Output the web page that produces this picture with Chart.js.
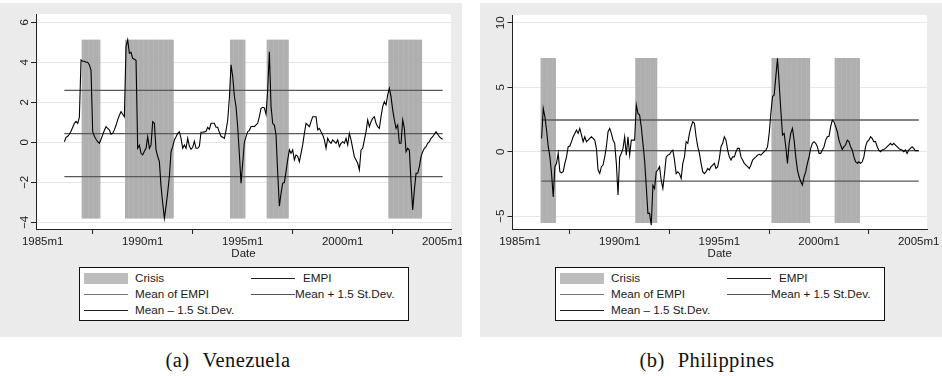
<!DOCTYPE html>
<html>
<head>
<meta charset="utf-8">
<title>EMPI and crisis periods</title>
<script src="https://cdn.jsdelivr.net/npm/chart.js@4.4.1/dist/chart.umd.min.js"></script>
<style>
  html, body { margin: 0; padding: 0; background: #fff; }
  body { position: relative; width: 942px; height: 376px; overflow: hidden;
         font-family: "Liberation Sans", Arial, sans-serif; color: #1a1a1a; }
  .panel { position: absolute; top: 3px; width: 462px; height: 334px; background: #ebebeb; }
  #panel-ven { left: 0; }
  #panel-phl { left: 480px; }
  .panel canvas { position: absolute; left: 0; top: 0; }
  .legend { position: absolute; top: 264px; width: 328px; height: 52px; background: #fff;
            border: 1px solid #111; font-size: 11.7px; }
  #panel-ven .legend { left: 79px; }
  #panel-phl .legend { left: 75px; }
  .legend .item { position: absolute; height: 14px; line-height: 14px; white-space: nowrap; }
  .legend .key { display: inline-block; vertical-align: middle; width: 44px; }
  .legend .box { height: 11px; background: #bdbdbd; }
  .legend .ln { height: 0; border-top: 1px solid #444; }
  .caption { position: absolute; top: 349px; width: 462px; text-align: center;
             font-family: "Liberation Serif", serif; font-size: 20.5px; letter-spacing: 0.4px; color: #111; }
  .caption span { margin-right: 13px; }
</style>
</head>
<body>

<div class="panel" id="panel-ven">
  <canvas id="chart-ven" width="462" height="334"></canvas>
  <div class="legend">
    <div class="item" style="left:4px; top:3px"><span class="key box"></span><span style="margin-left:7px">Crisis</span></div>
    <div class="item" style="left:171px; top:3px"><span class="key ln" style="border-top:1.5px solid #222"></span><span style="margin-left:8px">EMPI</span></div>
    <div class="item" style="left:4px; top:19px"><span class="key ln" style="border-color:#777"></span><span style="margin-left:7px">Mean of EMPI</span></div>
    <div class="item" style="left:171px; top:19px"><span class="key ln" style="border-color:#555"></span><span>Mean + 1.5 St.Dev.</span></div>
    <div class="item" style="left:4px; top:35px"><span class="key ln" style="border-color:#222"></span><span style="margin-left:7px">Mean – 1.5 St.Dev.</span></div>
  </div>
</div>

<div class="panel" id="panel-phl">
  <canvas id="chart-phl" width="462" height="334"></canvas>
  <div class="legend">
    <div class="item" style="left:4px; top:3px"><span class="key box"></span><span style="margin-left:7px">Crisis</span></div>
    <div class="item" style="left:171px; top:3px"><span class="key ln" style="border-top:1.5px solid #222"></span><span style="margin-left:8px">EMPI</span></div>
    <div class="item" style="left:4px; top:19px"><span class="key ln" style="border-color:#777"></span><span style="margin-left:7px">Mean of EMPI</span></div>
    <div class="item" style="left:171px; top:19px"><span class="key ln" style="border-color:#555"></span><span>Mean + 1.5 St.Dev.</span></div>
    <div class="item" style="left:4px; top:35px"><span class="key ln" style="border-color:#222"></span><span style="margin-left:7px">Mean – 1.5 St.Dev.</span></div>
  </div>
</div>

<div class="caption" style="left:-3px"><span>(a)</span>Venezuela</div>
<div class="caption" style="left:476px"><span>(b)</span>Philippines</div>

<script>
// both EMPI series are monthly and start here
const seriesStart = '1986m2';

// Venezuela
const venEmpi = [
  0.03, 0.25, 0.3, 0.4, 0.55, 0.75, 0.95, 1.05, 0.95, 1.25,
  4.12, 4.05, 4.05, 4.0, 4.0, 3.87, 3.6, 0.53, 0.3, 0.15,
  0.03, -0.05, 0.15, 0.37, 0.6, 0.78, 0.7, 0.62, 0.4, 0.45,
  0.62, 0.85, 1.12, 1.35, 1.53, 1.4, 1.28, 4.78, 5.12, 4.45,
  4.5, 4.2, 4.15, 4.1, -0.3, -0.15, -0.55, -0.63, -0.45, -0.3,
  0.28, -0.3, -0.13, 1.03, 0.95, -0.38, -0.7, -0.97, -2.2, -3.05,
  -3.8, -3.2, -2.5, -1.72, -0.47, -0.22, 0.12, 0.28, 0.45, 0.53,
  0.2, -0.3, -0.13, -0.3, 0.2, -0.2, -0.35, -0.25, 0.05, -0.3,
  -0.3, -0.2, 0.5, 0.5, 0.52, 0.55, 0.75, 0.65, 0.95, 0.95,
  0.95, 0.75, 0.75, 0.5, 0.3, 0.25, 0.2, 0.6, 1.1, 2.2,
  3.87, 3.3, 2.3, 1.78, 0.78, -0.6, -2.05, -1.05, 0.0, 0.28,
  0.53, 0.6, 0.78, 0.8, 0.78, 0.87, 0.95, 1.28, 1.7, 1.75,
  1.72, 1.4, 2.6, 4.53, 1.8, 0.95, 0.85, 0.37, -1.5, -3.2,
  -2.55, -2.05, -2.0, -1.47, -0.88, -0.38, -0.55, -0.38, -0.88, -0.63,
  -0.7, -0.97, -0.55, -0.13, 0.45, 0.95, 0.87, 0.78, 1.03, 1.28,
  1.28, 1.28, 0.62, 0.7, 0.53, 0.37, 0.12, -0.3, 0.2, 0.03,
  -0.05, 0.12, 0.03, -0.05, 0.12, -0.22, -0.05, 0.03, -0.05, 0.2,
  -0.13, 0.45, 0.12, -0.3, -0.72, -0.88, -1.05, -1.38, -0.38, -0.3,
  0.12, 0.53, 1.12, 0.78, 1.03, 1.2, 1.28, 0.95, 0.78, 0.7,
  1.28, 1.78, 2.03, 1.87, 2.37, 2.7, 2.28, 1.62, 1.12, 0.7,
  0.87, -0.05, -0.05, 1.12, 0.7, -0.47, -0.3, -0.4, -2.0, -3.38,
  -2.38, -1.55, -1.55, -1.22, -0.72, -0.47, -0.3, -0.22, -0.05, 0.03,
  0.2, 0.28, 0.4, 0.53, 0.4, 0.28, 0.2, 0.15
];
const venStats = [0.43, 2.60, -1.72];   // mean, mean + 1.5 sd, mean - 1.5 sd
const venCrisisFrom = ['1987m1', '1989m3', '1994m6', '1996m4', '2002m5'];
const venCrisisTo = ['1987m11', '1991m7', '1995m2', '1997m4', '2003m12'];
const venCrisisSpan = [-3.8, 5.12];
const venYTicks = [-4, -2, 0, 2, 4, 6];

// Philippines
const phlEmpi = [
  1.03, 3.36, 2.7, 1.68, 0.39, -0.4, -1.7, -3.5, -1.16, -0.9,
  -0.13, -1.55, -1.63, -1.55, -0.9, -0.4, 0.39, 0.44, 0.78, 1.16,
  1.42, 1.68, 1.42, 1.81, 1.3, 0.78, 1.16, 0.78, 0.9, 1.03,
  1.16, 1.03, 0.9, 0.26, -1.42, -1.68, -1.16, -1.03, -0.4, 0.39,
  1.55, 1.81, 1.42, 0.9, 0.65, -0.9, -3.36, -0.4, -0.13, 0.26,
  1.16, -0.26, 1.16, -0.26, 0.9, 0.9, 0.9, 3.62, 2.97, 2.84,
  1.94, 0.65, -0.65, -2.7, -4.78, -4.78, -5.7, -2.6, -2.85, -1.55,
  -1.42, -1.16, -2.2, -2.85, -1.68, -0.4, -0.26, -0.2, 0, 0.13,
  -0.65, -1.7, -1.55, -1.7, -2.07, -0.9, -0.4, 0.78, 0.65, 1.42,
  1.94, 2.33, 2.2, 1.16, 0.39, -0.13, -0.9, -1.55, -1.7, -1.55,
  -1.3, -1.42, -1.16, -1.03, -0.9, -1.29, -1.16, -0.52, 0.39, 0.65,
  1.16, 0.9, 0.13, -0.4, -0.65, -0.4, -0.4, 0.0, 0.26, 0.26,
  -0.4, -0.65, -0.9, -1.03, -1.16, -1.3, -1.03, -0.65, -0.52, -0.4,
  -0.26, -0.2, -0.26, -0.13, 0, 0.13, 0.39, 1.42, 2.97, 4.27,
  4.4, 5.82, 7.24, 5.3, 3.23, 1.3, 1.42, 0.39, -0.9, 0.65,
  1.42, 1.81, 0.9, -0.4, -1.42, -1.94, -2.33, -2.59, -1.94, -1.55,
  -0.9, -0.4, 0.26, 0.65, 0.78, 0.65, 0.39, -0.13, -0.13, 0.13,
  0.39, 0.9, 1.16, 1.2, 1.94, 2.46, 2.33, 1.94, 1.55, 0.9,
  0.52, 0.18, 0.39, 0.52, 0.9, 0.78, 0.39, 0.13, -0.4, -0.78,
  -0.9, -0.78, -0.9, -0.78, -0.4, 0.39, 0.78, 0.9, 1.16, 1.03,
  0.78, 0.78, 0.39, 0.13, 0, 0.13, 0.18, 0.26, 0.39, 0.52,
  0.65, 0.52, 0.65, 0.52, 0.39, 0.26, 0.18, 0.13, 0, 0.13,
  -0.13, 0.13, 0.26, 0.39, 0.26, 0.08, 0.1, 0.05
];
const phlStats = [0.08, 2.46, -2.28];
const phlCrisisFrom = ['1986m2', '1990m11', '1997m9', '2000m11'];
const phlCrisisTo = ['1986m10', '1991m11', '1999m7', '2002m1'];
const phlCrisisSpan = [-5.5, 7.24];
const phlYTicks = [-5, 0, 5, 10];

const xTickYears = [1985, 1990, 1995, 2000, 2005];

const FONT = "'Liberation Sans', Arial, sans-serif";

// "1987m3" -> month number counted from year 0
function monthIndex(s) {
  const parts = s.split('m');
  return Number(parts[0]) * 12 + Number(parts[1]) - 1;
}

function seriesPoints(values) {
  const m0 = monthIndex(seriesStart);
  return values.map((v, i) => ({ x: (m0 + i) / 12, y: v }));
}

// one floating bar per crisis month
function crisisBars(from, to, span) {
  const bars = [];
  from.forEach((f, i) => {
    for (let m = monthIndex(f); m <= monthIndex(to[i]); m++) {
      bars.push({ x: m / 12, y: span });
    }
  });
  return bars;
}

function flatLine(values, y) {
  const pts = seriesPoints(values);
  return [{ x: pts[0].x, y: y }, { x: pts[pts.length - 1].x, y: y }];
}

// white plot region on the grey graph region
const plotBg = {
  id: 'plotBg',
  beforeDraw(chart) {
    const { ctx, chartArea: a } = chart;
    ctx.save();
    ctx.fillStyle = '#fff';
    ctx.fillRect(a.left, a.top, a.right - a.left, a.bottom - a.top);
    ctx.restore();
  }
};

function makeChart(id, c) {
  const refLine = (label, y) => ({
    label: label, data: flatLine(c.empi, y), borderColor: '#595959', borderWidth: 1.3,
    pointRadius: 0, tension: 0, order: 1
  });

  return new Chart(document.getElementById(id), {
    type: 'line',
    data: {
      datasets: [
        { type: 'bar', label: 'Crisis', data: crisisBars(c.from, c.to, c.span),
          backgroundColor: '#afafaf', borderWidth: 0, inflateAmount: 0.22,
          barPercentage: 1, categoryPercentage: 1, order: 5 },
        { label: 'EMPI', data: seriesPoints(c.empi), borderColor: '#000', borderWidth: 1.1,
          pointRadius: 0, tension: 0, order: 0 },
        refLine('Mean of EMPI', c.stats[0]),
        refLine('Mean + 1.5 St.Dev.', c.stats[1]),
        refLine('Mean – 1.5 St.Dev.', c.stats[2])
      ]
    },
    options: {
      responsive: false,
      animation: false,
      devicePixelRatio: 1,
      layout: { padding: { left: 0, top: c.top, right: c.right, bottom: 76 } },
      plugins: { legend: { display: false }, tooltip: { enabled: false } },
      scales: {
        x: {
          type: 'linear', min: c.xMin, max: c.xMax, offset: false,
          grid: { drawOnChartArea: false, tickLength: 5, tickColor: '#222' },
          border: { color: '#222', width: 1 },
          afterBuildTicks: s => { s.ticks = xTickYears.map(v => ({ value: v })); },
          ticks: { autoSkip: false, maxRotation: 0, padding: 1, color: '#1a1a1a',
                   font: { family: FONT, size: 11.5 }, callback: v => v + 'm1' },
          title: { display: true, text: 'Date', padding: 0, color: '#1a1a1a',
                   font: { family: FONT, size: 11.5 } },
          afterFit: s => { s.height = 32; s.paddingLeft = 0; s.paddingRight = 0; }
        },
        y: {
          min: c.yMin, max: c.yMax,
          grid: { color: '#e6e6e6', tickLength: 5, tickColor: '#222' },
          border: { color: '#222', width: 1 },
          afterBuildTicks: s => { s.ticks = c.yTicks.map(v => ({ value: v })); },
          ticks: { minRotation: 90, maxRotation: 90, crossAlign: 'center', padding: 0,
                   color: '#1a1a1a', font: { family: FONT, size: 11.5 },
                   callback: v => String(v).replace('-', '\u2212') },
          afterFit: s => { s.width = c.axisWidth; s.paddingTop = 0; s.paddingBottom = 0; }
        }
      }
    },
    plugins: [plotBg]
  });
}

makeChart('chart-ven', {
  empi: venEmpi, stats: venStats, from: venCrisisFrom, to: venCrisisTo, span: venCrisisSpan,
  yTicks: venYTicks, xMin: 1984.665, xMax: 2005.415, yMin: -4.335, yMax: 6.415,
  axisWidth: 36, top: 11, right: 11
});

makeChart('chart-phl', {
  empi: phlEmpi, stats: phlStats, from: phlCrisisFrom, to: phlCrisisTo, span: phlCrisisSpan,
  yTicks: phlYTicks, xMin: 1984.624, xMax: 2005.416, yMin: -5.99, yMax: 10.6,
  axisWidth: 32.5, top: 12, right: 15
});
</script>
</body>
</html>
